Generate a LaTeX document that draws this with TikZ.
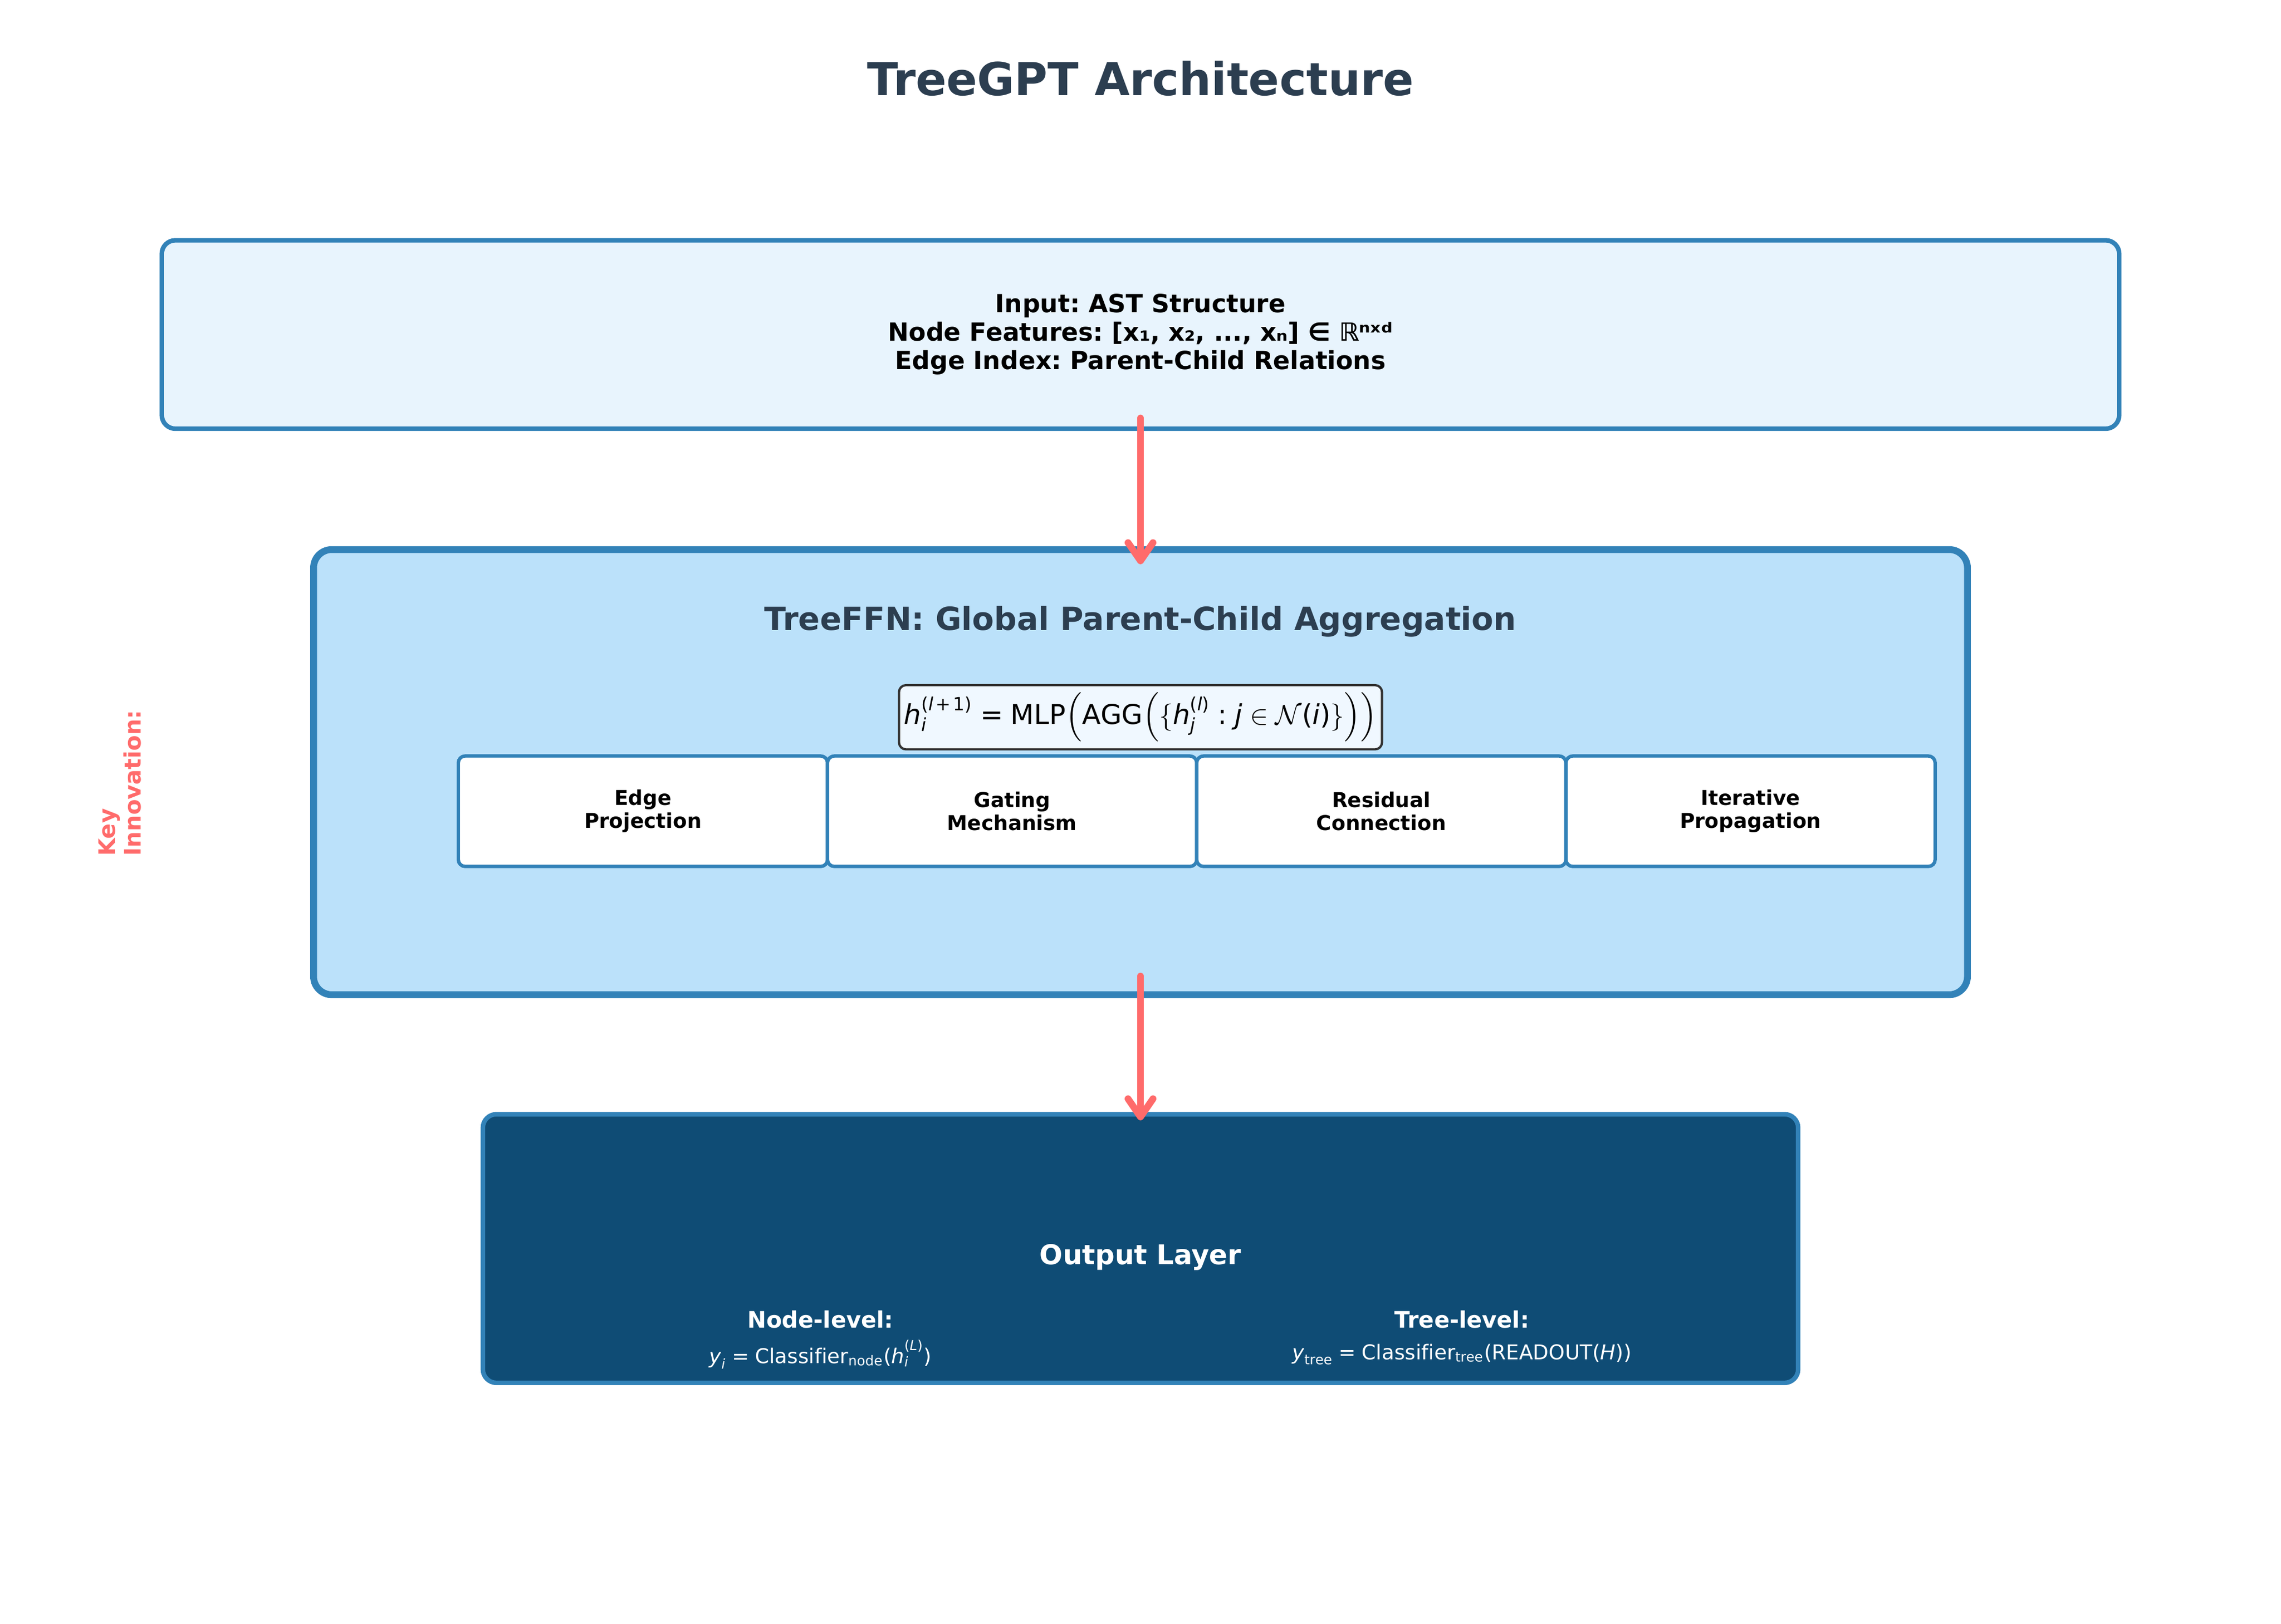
\documentclass[tikz,border=0pt]{standalone}
\usepackage{amsmath,amssymb}
\usepackage{fontspec}
\setmainfont{DejaVu Sans}
\setmathrm{DejaVu Sans}
\frenchspacing
\usepackage{xcolor}
\usepackage{tikz}
\usetikzlibrary{arrows.meta, positioning}

\definecolor{bleupale}{HTML}{E8F4FD}
\definecolor{bleuclair}{HTML}{BBE1FA}
\definecolor{bleubord}{HTML}{3282B8}
\definecolor{bleufonce}{HTML}{0F4C75}
\definecolor{ardoise}{HTML}{2C3E50}
\definecolor{corail}{HTML}{FF6B6B}
\definecolor{formule}{HTML}{F0F8FF}

% lettres et signes des formules en DejaVu
\newcommand{\vi}[1]{\textit{#1}}
\newcommand{\up}[1]{\textup{#1}}
\newcommand{\egal}{\mathrel{\up{=}}}
\newcommand{\plus}{\mkern2mu\up{+}\mkern2mu}

\tikzstyle{bloc} = [rectangle,
rounded corners=6pt,
draw=bleubord,
line width=2pt]
\tikzstyle{souscase} = [rectangle,
rounded corners=3pt,
minimum width=5.715cm,
minimum height=1.71cm,
outer sep=0pt,
text centered,
align=center,
fill=white,
draw=bleubord,
line width=1.5pt,
font=\fontsize{9}{10.2}\selectfont\bfseries]
\tikzstyle{fleche} = [line width=3pt, draw=corail, line cap=round,
-{Straight Barb[length=8pt,width=11pt,round]}]

\begin{document}
\begin{tikzpicture}[x=2.522cm, y=2.522cm]
\useasboundingbox (0,0) rectangle (14,9.971);

% Titre
\node[anchor=base, text=ardoise, font=\fontsize{20}{24}\selectfont\bfseries] (titre) at (7,9.384) {TreeGPT Architecture};

% Entrée
\node[bloc, fill=bleupale, minimum width=30.30cm, minimum height=2.918cm, align=center,
  font=\fontsize{11}{12.5}\selectfont\bfseries] (entree) at (7,7.917)
  {Input: AST Structure\\Node Features: [x₁, x₂, ..., xₙ] ∈ ℝⁿˣᵈ\\Edge Index: Parent-Child Relations};

% Bloc TreeFFN
\node[bloc, fill=bleuclair, line width=3pt, rounded corners=8pt, minimum width=25.6cm, minimum height=6.893cm] (ffn) at (7,5.23) {};
\node[text=ardoise, font=\fontsize{14}{17}\selectfont\bfseries] (ffntitre) at (7,6.155) {TreeFFN: Global Parent-Child Aggregation};
\node[rectangle, rounded corners=3pt, draw=black!80, line width=1pt, fill=formule, inner xsep=1.5pt,
  minimum width=7.475cm, minimum height=0.886cm, font=\fontsize{12}{14}\selectfont] (eq) at (7,5.567)
  {$\vi{h}_{\vi{i}}^{\up{(}\vi{l}\plus\up{1)}} \egal \mathrm{MLP}\Bigl(\mathrm{AGG}\Bigl(\{\vi{h}_{\vi{j}}^{\up{(}\vi{l}\up{)}} \mathrel{\up{:}} \vi{j} \in \mathcal{N}\up{(}\vi{i}\up{)}\}\Bigr)\Bigr)$};

% Quatre composantes
\node[souscase] (proj) at (3.946,4.99) {Edge\\Projection};
\node[souscase, right=0pt of proj] (gate) {Gating\\Mechanism};
\node[souscase, right=0pt of gate] (resid) {Residual\\Connection};
\node[souscase, right=0pt of resid] (iter) {Iterative\\Propagation};

% Annotation verticale
\node[rotate=90, align=left, text=corail, font=\fontsize{10}{11.3}\selectfont\bfseries] (cle) at (0.735,5.163) {Key\\Innovation:};

% Sortie
\node[bloc, fill=bleufonce, minimum width=20.36cm, minimum height=4.16cm] (sortie) at (7,2.305) {};
\node[text=white, font=\fontsize{12}{14}\selectfont\bfseries] (sortietitre) at (7,2.25) {Output Layer};
\node[text=white, font=\fontsize{10}{12}\selectfont\bfseries] (noeud) at (5.036,1.87) {Node-level:};
\node[text=white, font=\fontsize{9}{11}\selectfont] (noeudeq) at (5.036,1.655)
  {$\vi{y}_{\vi{i}} \egal \mathrm{Classifier}_{\mathrm{node}}\up{(}\vi{h}_{\vi{i}}^{\up{(}\vi{L}\up{)}}\up{)}$};
\node[text=white, font=\fontsize{10}{12}\selectfont\bfseries] (arbre) at (8.973,1.87) {Tree-level:};
\node[text=white, font=\fontsize{9}{11}\selectfont] (arbreeq) at (8.973,1.655)
  {$\vi{y}_{\mathrm{tree}} \egal \mathrm{Classifier}_{\mathrm{tree}}\up{(}\mathrm{READOUT}\up{(}\vi{H}\up{))}$};

% Flèches
\draw[fleche] ([yshift=0.2cm]entree.south) -- ([yshift=-0.28cm]ffn.north);
\draw[fleche] ([yshift=0.34cm]ffn.south) -- ([yshift=-0.13cm]sortie.north);

\end{tikzpicture}
\end{document}
